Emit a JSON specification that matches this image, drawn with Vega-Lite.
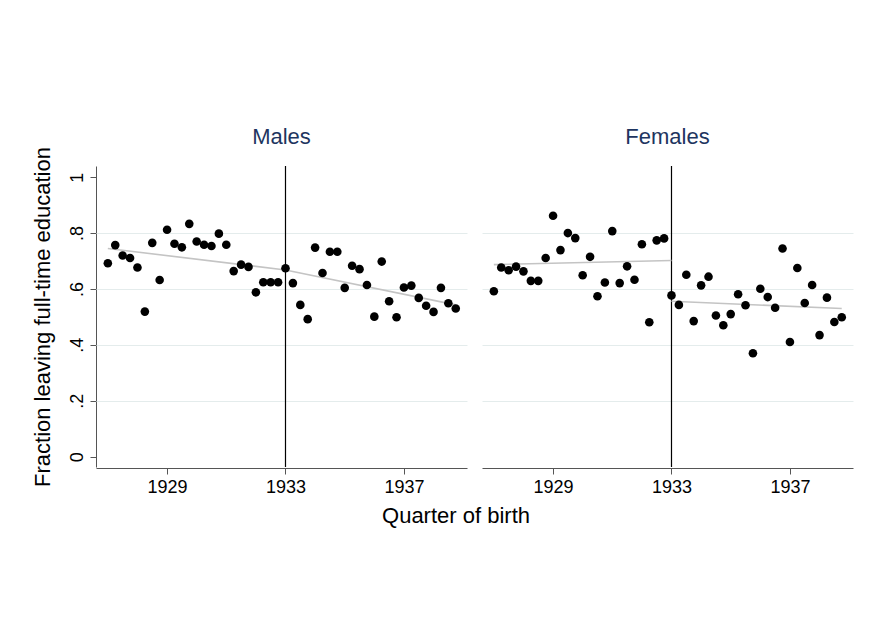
{
  "$schema": "https://vega.github.io/schema/vega-lite/v6.json",
  "background": "white",
  "padding": {"left": 30, "top": 126, "right": 10, "bottom": 10},
  "title": {"text": "Quarter of birth", "orient": "bottom", "anchor": "middle", "fontSize": 22, "fontWeight": "normal", "font": "Liberation Sans", "color": "#000000", "offset": 10, "dx": 14},
  "data": {"values": [
    {"sex":"Males","kind":"obs","q":1927.00,"y":0.692},{"sex":"Males","kind":"obs","q":1927.25,"y":0.757},{"sex":"Males","kind":"obs","q":1927.50,"y":0.720},{"sex":"Males","kind":"obs","q":1927.75,"y":0.711},
    {"sex":"Males","kind":"obs","q":1928.00,"y":0.677},{"sex":"Males","kind":"obs","q":1928.25,"y":0.519},{"sex":"Males","kind":"obs","q":1928.50,"y":0.765},{"sex":"Males","kind":"obs","q":1928.75,"y":0.632},
    {"sex":"Males","kind":"obs","q":1929.00,"y":0.812},{"sex":"Males","kind":"obs","q":1929.25,"y":0.762},{"sex":"Males","kind":"obs","q":1929.50,"y":0.749},{"sex":"Males","kind":"obs","q":1929.75,"y":0.833},
    {"sex":"Males","kind":"obs","q":1930.00,"y":0.770},{"sex":"Males","kind":"obs","q":1930.25,"y":0.758},{"sex":"Males","kind":"obs","q":1930.50,"y":0.754},{"sex":"Males","kind":"obs","q":1930.75,"y":0.798},
    {"sex":"Males","kind":"obs","q":1931.00,"y":0.758},{"sex":"Males","kind":"obs","q":1931.25,"y":0.664},{"sex":"Males","kind":"obs","q":1931.50,"y":0.687},{"sex":"Males","kind":"obs","q":1931.75,"y":0.679},
    {"sex":"Males","kind":"obs","q":1932.00,"y":0.588},{"sex":"Males","kind":"obs","q":1932.25,"y":0.624},{"sex":"Males","kind":"obs","q":1932.50,"y":0.624},{"sex":"Males","kind":"obs","q":1932.75,"y":0.624},
    {"sex":"Males","kind":"obs","q":1933.00,"y":0.674},{"sex":"Males","kind":"obs","q":1933.25,"y":0.621},{"sex":"Males","kind":"obs","q":1933.50,"y":0.543},{"sex":"Males","kind":"obs","q":1933.75,"y":0.492},
    {"sex":"Males","kind":"obs","q":1934.00,"y":0.748},{"sex":"Males","kind":"obs","q":1934.25,"y":0.657},{"sex":"Males","kind":"obs","q":1934.50,"y":0.733},{"sex":"Males","kind":"obs","q":1934.75,"y":0.733},
    {"sex":"Males","kind":"obs","q":1935.00,"y":0.604},{"sex":"Males","kind":"obs","q":1935.25,"y":0.683},{"sex":"Males","kind":"obs","q":1935.50,"y":0.671},{"sex":"Males","kind":"obs","q":1935.75,"y":0.614},
    {"sex":"Males","kind":"obs","q":1936.00,"y":0.501},{"sex":"Males","kind":"obs","q":1936.25,"y":0.698},{"sex":"Males","kind":"obs","q":1936.50,"y":0.556},{"sex":"Males","kind":"obs","q":1936.75,"y":0.499},
    {"sex":"Males","kind":"obs","q":1937.00,"y":0.605},{"sex":"Males","kind":"obs","q":1937.25,"y":0.612},{"sex":"Males","kind":"obs","q":1937.50,"y":0.568},{"sex":"Males","kind":"obs","q":1937.75,"y":0.540},
    {"sex":"Males","kind":"obs","q":1938.00,"y":0.518},{"sex":"Males","kind":"obs","q":1938.25,"y":0.604},{"sex":"Males","kind":"obs","q":1938.50,"y":0.549},{"sex":"Males","kind":"obs","q":1938.75,"y":0.530},
    {"sex":"Females","kind":"obs","q":1927.00,"y":0.592},{"sex":"Females","kind":"obs","q":1927.25,"y":0.677},{"sex":"Females","kind":"obs","q":1927.50,"y":0.667},{"sex":"Females","kind":"obs","q":1927.75,"y":0.680},
    {"sex":"Females","kind":"obs","q":1928.00,"y":0.663},{"sex":"Females","kind":"obs","q":1928.25,"y":0.629},{"sex":"Females","kind":"obs","q":1928.50,"y":0.629},{"sex":"Females","kind":"obs","q":1928.75,"y":0.711},
    {"sex":"Females","kind":"obs","q":1929.00,"y":0.862},{"sex":"Females","kind":"obs","q":1929.25,"y":0.739},{"sex":"Females","kind":"obs","q":1929.50,"y":0.800},{"sex":"Females","kind":"obs","q":1929.75,"y":0.782},
    {"sex":"Females","kind":"obs","q":1930.00,"y":0.649},{"sex":"Females","kind":"obs","q":1930.25,"y":0.715},{"sex":"Females","kind":"obs","q":1930.50,"y":0.574},{"sex":"Females","kind":"obs","q":1930.75,"y":0.623},
    {"sex":"Females","kind":"obs","q":1931.00,"y":0.807},{"sex":"Females","kind":"obs","q":1931.25,"y":0.621},{"sex":"Females","kind":"obs","q":1931.50,"y":0.681},{"sex":"Females","kind":"obs","q":1931.75,"y":0.633},
    {"sex":"Females","kind":"obs","q":1932.00,"y":0.760},{"sex":"Females","kind":"obs","q":1932.25,"y":0.481},{"sex":"Females","kind":"obs","q":1932.50,"y":0.774},{"sex":"Females","kind":"obs","q":1932.75,"y":0.781},
    {"sex":"Females","kind":"obs","q":1933.00,"y":0.577},{"sex":"Females","kind":"obs","q":1933.25,"y":0.543},{"sex":"Females","kind":"obs","q":1933.50,"y":0.651},{"sex":"Females","kind":"obs","q":1933.75,"y":0.485},
    {"sex":"Females","kind":"obs","q":1934.00,"y":0.613},{"sex":"Females","kind":"obs","q":1934.25,"y":0.644},{"sex":"Females","kind":"obs","q":1934.50,"y":0.505},{"sex":"Females","kind":"obs","q":1934.75,"y":0.470},
    {"sex":"Females","kind":"obs","q":1935.00,"y":0.510},{"sex":"Females","kind":"obs","q":1935.25,"y":0.581},{"sex":"Females","kind":"obs","q":1935.50,"y":0.542},{"sex":"Females","kind":"obs","q":1935.75,"y":0.370},
    {"sex":"Females","kind":"obs","q":1936.00,"y":0.601},{"sex":"Females","kind":"obs","q":1936.25,"y":0.571},{"sex":"Females","kind":"obs","q":1936.50,"y":0.533},{"sex":"Females","kind":"obs","q":1936.75,"y":0.745},
    {"sex":"Females","kind":"obs","q":1937.00,"y":0.410},{"sex":"Females","kind":"obs","q":1937.25,"y":0.675},{"sex":"Females","kind":"obs","q":1937.50,"y":0.550},{"sex":"Females","kind":"obs","q":1937.75,"y":0.614},
    {"sex":"Females","kind":"obs","q":1938.00,"y":0.435},{"sex":"Females","kind":"obs","q":1938.25,"y":0.569},{"sex":"Females","kind":"obs","q":1938.50,"y":0.482},{"sex":"Females","kind":"obs","q":1938.75,"y":0.499},
    {"sex":"Males","kind":"fit_pre","q":1927.00,"y":0.745},{"sex":"Males","kind":"fit_pre","q":1933.00,"y":0.668},
    {"sex":"Males","kind":"fit_post","q":1933.00,"y":0.668},{"sex":"Males","kind":"fit_post","q":1938.75,"y":0.543},
    {"sex":"Females","kind":"fit_pre","q":1927.00,"y":0.687},{"sex":"Females","kind":"fit_pre","q":1933.00,"y":0.702},
    {"sex":"Females","kind":"fit_post","q":1933.00,"y":0.556},{"sex":"Females","kind":"fit_post","q":1938.75,"y":0.530},
    {"sex":"Males","kind":"cutoff","q":1933.00},{"sex":"Females","kind":"cutoff","q":1933.00}
  ]},
  "facet": {"column": {"field": "sex", "type": "nominal", "sort": ["Males", "Females"],
    "header": {"title": null, "labelFontSize": 22, "labelFont": "Liberation Sans", "labelColor": "#1e3560", "labelPadding": 16}}},
  "spacing": 15,
  "spec": {
    "width": 371,
    "height": 301,
    "layer": [
      {"transform": [{"filter": "datum.kind == 'cutoff'"}],
       "mark": {"type": "rule", "color": "#000000", "strokeWidth": 1.2},
       "encoding": {"x": {"field": "q", "type": "quantitative"}}},
      {"transform": [{"filter": "indexof(datum.kind, 'fit') == 0"}],
       "mark": {"type": "line", "color": "#c4c4c4", "strokeWidth": 1.6},
       "encoding": {"x": {"field": "q", "type": "quantitative"}, "y": {"field": "y", "type": "quantitative"}, "detail": {"field": "kind"}}},
      {"transform": [{"filter": "datum.kind == 'obs'"}],
       "mark": {"type": "circle", "color": "#000000", "opacity": 1, "size": 74},
       "encoding": {
         "x": {"field": "q", "type": "quantitative",
           "scale": {"domain": [1926.6, 1939.13], "nice": false, "zero": false},
           "axis": {"title": null, "values": [1929, 1933, 1937], "format": "d", "grid": false, "labelFontSize": 18, "labelFont": "Liberation Sans", "labelColor": "#000000", "tickSize": 6, "tickColor": "#555555", "domainColor": "#555555", "labelPadding": 4, "labelFlush": false}},
         "y": {"field": "y", "type": "quantitative",
           "scale": {"domain": [-0.037, 1.04], "nice": false, "zero": false},
           "axis": {"title": "Fraction leaving full-time education", "titleFontSize": 22, "titleFont": "Liberation Sans", "titleFontWeight": "normal", "titleColor": "#000000", "titlePadding": 14,
             "values": [0, 0.2, 0.4, 0.6, 0.8, 1], "labelExpr": "datum.value == 0 ? '0' : datum.value == 1 ? '1' : replace(format(datum.value, '.1f'), '0.', '.')",
             "labelAngle": -90, "labelFontSize": 18, "labelFont": "Liberation Sans", "labelColor": "#000000", "labelPadding": 4, "tickSize": 6, "tickColor": "#555555", "domainColor": "#555555",
             "grid": true, "gridColor": "#e4ecec", "gridOpacity": {"condition": {"test": "datum.value == 0 || datum.value == 1", "value": 0}, "value": 1}}}
       }}
    ]
  },
  "config": {"view": {"stroke": null}}
}
